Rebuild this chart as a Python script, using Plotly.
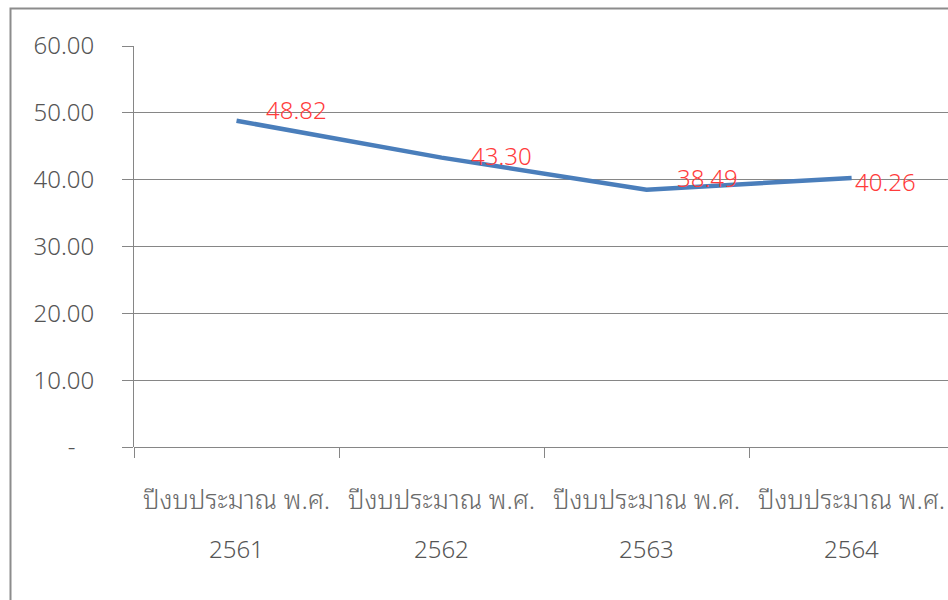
import plotly.graph_objects as go

years = ["2561", "2562", "2563", "2564"]
line1_label = "ปีงบประมาณ พ.ศ."
categories = [f"{line1_label} {y}" for y in years]
values = [48.82, 43.30, 38.49, 40.26]
y_ticks = [0, 10, 20, 30, 40, 50, 60]
y_tick_text = ["-\u00a0\u00a0\u00a0", "10.00", "20.00", "30.00", "40.00", "50.00", "60.00"]

label_xshift = [27, 27, 28, 1]
label_yshift = [11, 2, 12, -4]

FONT = "Noto Sans, DejaVu Sans, sans-serif"
THAI_FONT = "Noto Sans Thai Looped, Noto Sans Thai, Noto Sans, sans-serif"
FS = 24
GRAY_TXT = "#555555"
GRID = "#868686"

fig = go.Figure()
fig.add_trace(go.Scatter(
    x=categories, y=values, mode="lines",
    line=dict(color="#4a7ebb", width=4.5),
    hoverinfo="skip", showlegend=False,
))

for c, v, xs, ys in zip(categories, values, label_xshift, label_yshift):
    fig.add_annotation(x=c, y=v, xref="x", yref="y", text=f"{v:.2f}",
                       showarrow=False, xanchor="left", yanchor="middle",
                       xshift=xs, yshift=ys,
                       font=dict(family=FONT, size=FS, color="#ff3b3b", weight=300))

for c, yr in zip(categories, years):
    fig.add_annotation(x=c, y=-0.252, xref="x", yref="paper", text=yr,
                       showarrow=False, xanchor="center", yanchor="middle",
                       font=dict(family=FONT, size=FS, color=GRAY_TXT, weight=300))

# outer chart frame
fig.add_shape(type="rect", xref="paper", yref="paper",
              x0=(10.5 - 134) / 814, x1=1.05,
              y0=-0.45, y1=1 + (46 - 8.5) / 401,
              line=dict(color="#8c8c8c", width=2), fillcolor="rgba(0,0,0,0)",
              layer="below")

fig.update_layout(
    width=948, height=600,
    margin=dict(l=134, r=0, t=46, b=153),
    paper_bgcolor="white", plot_bgcolor="white",
    font=dict(family=FONT, size=FS, color=GRAY_TXT),
    xaxis=dict(
        type="category",
        range=[-0.5, 3.47],
        tickmode="array", tickvals=categories,
        ticktext=[line1_label] * len(categories),
        tickson="boundaries", ticks="outside", ticklen=10, tickcolor=GRID,
        showline=False, showgrid=False, zeroline=False,
        ticklabelstandoff=35,
        tickfont=dict(family=THAI_FONT, size=26, color="#6a6a6a", weight=300),
    ),
    yaxis=dict(
        range=[0, 60],
        tickmode="array", tickvals=y_ticks, ticktext=y_tick_text,
        ticks="outside", ticklen=11, tickcolor=GRID,
        showgrid=True, gridcolor=GRID, gridwidth=1,
        showline=True, linecolor=GRID, linewidth=1,
        zeroline=True, zerolinecolor=GRID, zerolinewidth=1,
        ticklabelstandoff=23,
        tickfont=dict(family=FONT, size=FS, color=GRAY_TXT, weight=300),
    ),
)

fig.write_html("out.html", config={"displayModeBar": False},
               post_script="document.body.style.margin='0';")
